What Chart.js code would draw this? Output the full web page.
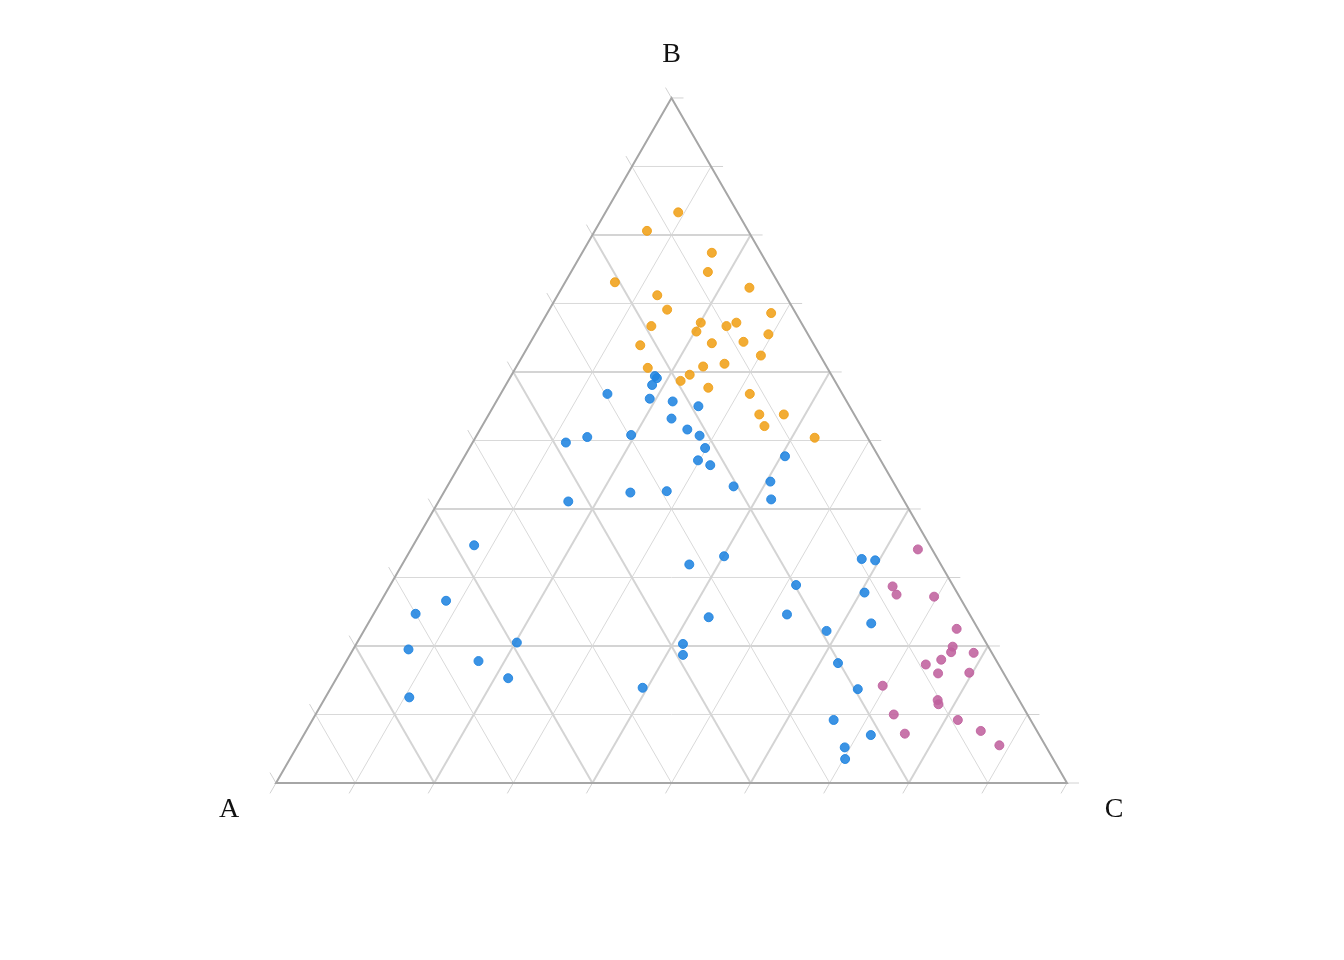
<!DOCTYPE html>
<html>
<head>
<meta charset="utf-8">
<script src="https://cdn.jsdelivr.net/npm/chart.js@4.4.1/dist/chart.umd.min.js"></script>
<style>
  html, body { margin: 0; padding: 0; background: #fff; }
</style>
</head>
<body>
<canvas id="chart" width="1344" height="960"></canvas>
<script>
// corner names: A bottom-left, B top, C bottom-right
const cornerNames = ['A', 'B', 'C']
const gridSteps = [0, 0.1, 0.2, 0.3, 0.4, 0.5, 0.6, 0.7, 0.8, 0.9, 1]

// compositions as [B %, C %]; A % = 100 - B - C
const orangeBC = [
  [83.3, 9.2], [80.6, 6.6], [77.4, 16.4], [74.6, 17.3], [73.1, 6.3], [72.3, 23.7],
  [71.2, 12.6], [69.1, 14.9], [68.6, 28.3], [66.7, 14.1], [67.2, 20.1], [65.9, 20.2],
  [66.7, 23.6], [67.2, 24.6], [65.5, 29.5], [64.2, 23.0], [64.4, 26.9], [63.9, 14.1],
  [62.4, 30.1], [60.6, 16.7], [60.8, 23.6], [61.2, 26.1], [59.6, 22.5], [58.7, 21.8],
  [57.7, 25.8], [56.8, 31.5], [53.8, 34.2], [53.8, 37.3], [52.1, 35.7], [50.4, 42.9]
]
const blueBC = [
  [59.4, 18.2], [59.1, 18.6], [58.1, 18.5], [56.8, 13.5], [56.1, 19.2], [55.7, 22.3],
  [55.0, 25.9], [53.2, 23.4], [51.6, 26.2], [50.7, 28.2], [50.8, 19.5], [50.5, 14.1],
  [49.7, 11.8], [48.9, 29.8], [47.1, 29.8], [46.4, 31.7], [47.7, 40.5], [43.3, 36.2],
  [44.0, 40.5], [41.4, 41.9], [42.4, 23.6], [42.6, 28.1], [41.1, 16.4], [31.9, 36.3],
  [33.1, 40.1], [28.9, 51.3], [24.2, 42.6], [24.6, 52.3], [22.2, 58.5], [20.3, 41.3],
  [18.7, 42.1], [13.9, 39.4], [34.7, 7.7], [26.6, 8.2], [24.7, 5.3], [19.5, 7.0],
  [20.5, 20.2], [17.8, 16.7], [15.3, 21.7], [12.5, 10.6], [32.7, 57.7], [32.5, 59.5],
  [27.8, 60.5], [23.3, 63.6], [17.5, 62.3], [13.7, 66.7], [9.2, 65.9], [7.0, 71.7],
  [5.2, 69.3], [3.5, 70.2]
]
const pinkBC = [
  [34.1, 64.1], [28.7, 63.6], [27.5, 64.7], [27.2, 69.6], [22.5, 74.8], [19.9, 75.6],
  [19.1, 75.8], [19.0, 78.7], [17.3, 73.5], [18.0, 75.1], [16.0, 75.7], [16.1, 79.6],
  [14.2, 69.6], [12.1, 77.6], [11.5, 78.0], [10.0, 73.1], [9.2, 81.6], [7.2, 75.9],
  [7.6, 85.3], [5.5, 88.7]
]

const H = Math.sqrt(3) / 2
// ternary (b, c fractions) -> cartesian, A=(0,0) C=(1,0) B=(0.5,H)
const toXY = (b, c) => ({ x: c + b / 2, y: b * H })
const toPoints = arr => arr.map(([b, c]) => toXY(b / 100, c / 100))

const ternaryGrid = {
  id: 'ternaryGrid',
  beforeDatasetsDraw(chart) {
    const { ctx, scales: { x, y } } = chart
    const P = (b, c) => { const q = toXY(b, c); return [x.getPixelForValue(q.x), y.getPixelForValue(q.y)] }
    const line = (p, q, w, col) => {
      ctx.beginPath(); ctx.moveTo(p[0], p[1]); ctx.lineTo(q[0], q[1])
      ctx.lineWidth = w; ctx.strokeStyle = col; ctx.stroke()
    }
    const tick = 12
    ctx.save()
    ctx.lineCap = 'butt'
    gridSteps.forEach((k, i) => {
      const major = i % 2 === 0
      const w = major ? 2 : 1
      const col = major ? '#d4d4d4' : '#d9d9d9'
      // constant B: left edge -> right edge, tick to the right
      let r = P(k, 1 - k)
      if (i > 0 && i < 10) line(P(k, 0), r, w, col)
      line(r, [r[0] + tick, r[1]], 1, '#d2d2d2')
      // constant C: base -> right edge, tick down-left
      let s = P(0, k)
      if (i > 0 && i < 10) line(s, P(1 - k, k), w, col)
      line(s, [s[0] - tick * 0.5, s[1] + tick * H], 1, '#d2d2d2')
      // constant A: left edge -> base, tick up-left
      let t = P(1 - k, 0)
      if (i > 0 && i < 10) line(t, P(0, 1 - k), w, col)
      line(t, [t[0] - tick * 0.5, t[1] - tick * H], 1, '#d2d2d2')
    })
    // outline
    const a = P(0, 0), b = P(1, 0), c = P(0, 1)
    ctx.beginPath(); ctx.moveTo(a[0], a[1]); ctx.lineTo(b[0], b[1]); ctx.lineTo(c[0], c[1]); ctx.closePath()
    ctx.lineWidth = 2; ctx.strokeStyle = '#a6a6a6'; ctx.lineJoin = 'miter'; ctx.stroke()
    // corner labels
    ctx.fillStyle = '#111'
    ctx.font = '28px "Liberation Serif", "DejaVu Serif", serif'
    ctx.textAlign = 'center'; ctx.textBaseline = 'alphabetic'
    ctx.fillText(cornerNames[0], a[0] - 47, a[1] + 34)
    ctx.fillText(cornerNames[1], b[0], b[1] - 36)
    ctx.fillText(cornerNames[2], c[0] + 47, c[1] + 34)
    ctx.restore()
  }
}

const ds = (data, rgb) => ({
  data: toPoints(data),
  backgroundColor: `rgba(${rgb},0.88)`,
  borderColor: `rgba(${rgb},0.9)`,
  borderWidth: 1,
  pointRadius: 4.5,
  pointHoverRadius: 4.5,
})

new Chart(document.getElementById('chart'), {
  type: 'scatter',
  data: {
    datasets: [
      ds(orangeBC, '240,160,24'),
      ds(blueBC, '32,132,224'),
      ds(pinkBC, '192,98,158'),
    ]
  },
  options: {
    responsive: false,
    animation: false,
    devicePixelRatio: 1,
    layout: { padding: 0, autoPadding: false },
    plugins: { legend: { display: false }, tooltip: { enabled: false } },
    scales: {
      x: { type: 'linear', min: -276 / 791, max: (1344 - 276) / 791, display: false },
      y: { type: 'linear', min: 783 / 791 - 960 / 791, max: 783 / 791, display: false },
    }
  },
  plugins: [ternaryGrid]
})
</script>
</body>
</html>
